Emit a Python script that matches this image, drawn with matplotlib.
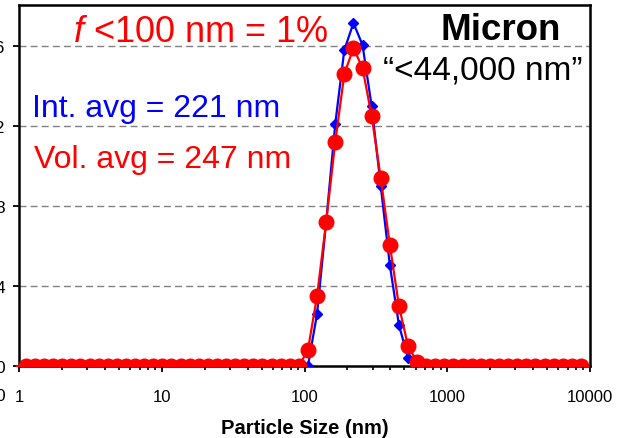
import matplotlib
matplotlib.use("Agg")
import matplotlib.pyplot as plt
from matplotlib.ticker import FixedLocator, NullFormatter

plt.rcParams["font.family"] = ["Liberation Sans", "DejaVu Sans"]
plt.rcParams["mathtext.fontset"] = "custom"
plt.rcParams["mathtext.rm"] = "Liberation Sans"
plt.rcParams["mathtext.it"] = "Liberation Sans:italic"

# size bins (nm)
sizes = [1.117, 1.294, 1.499, 1.736, 2.010, 2.328, 2.696, 3.122, 3.615, 4.187,
         4.849, 5.615, 6.503, 7.531, 8.721, 10.10, 11.70, 13.54, 15.69, 18.17,
         21.04, 24.36, 28.21, 32.67, 37.84, 43.82, 50.75, 58.77, 68.06, 78.82,
         91.28, 105.7, 122.4, 141.8, 164.2, 190.1, 220.2, 255.0, 295.3, 342.0,
         396.1, 458.7, 531.2, 615.1, 712.4, 825.0, 955.4, 1106, 1281, 1484,
         1718, 1990, 2305, 2669, 3091, 3580, 4145, 4801, 5560, 6439,
         7456, 8635]

# intensity distribution (%)
intensity = [0, 0, 0, 0, 0, 0, 0, 0, 0, 0,
             0, 0, 0, 0, 0, 0, 0, 0, 0, 0,
             0, 0, 0, 0, 0, 0, 0, 0, 0, 0,
             0, 0, 2.6, 7.2, 12.1, 15.8, 17.15, 16.05, 13.0, 9.0,
             5.05, 2.05, 0.4, 0, 0, 0, 0, 0, 0, 0,
             0, 0, 0, 0, 0, 0, 0, 0, 0, 0,
             0, 0]

# volume distribution (%)
volume = [0, 0, 0, 0, 0, 0, 0, 0, 0, 0,
          0, 0, 0, 0, 0, 0, 0, 0, 0, 0,
          0, 0, 0, 0, 0, 0, 0, 0, 0, 0,
          0, 0.8, 3.5, 7.2, 11.2, 14.6, 15.9, 14.9, 12.5, 9.4,
          6.05, 3.0, 1.0, 0.2, 0, 0, 0, 0, 0, 0,
          0, 0, 0, 0, 0, 0, 0, 0, 0, 0,
          0, 0]

yticks = [0, 4, 8, 12, 16]
xticks = [1, 10, 100, 1000, 10000]

fig = plt.figure(figsize=(6.2, 4.39), dpi=100)
W, H = 620, 439
x0, x1, ytop, ybot = 19, 590, 6, 367
ax = fig.add_axes([x0 / W, (H - ybot) / H, (x1 - x0) / W, (ybot - ytop) / H])

ax.set_xscale("log")
ax.set_xlim(1, 10000)
ax.set_ylim(0, 18.05)

for v in yticks[1:]:
    ax.axhline(v, color="#808080", lw=1, ls=(0, (5, 3)), zorder=1)

ax.plot(sizes, intensity, color="#0000FF", lw=1.6, marker="D", ms=5,
        markeredgecolor="#0000FF", zorder=3)
ax.plot(sizes, volume, color="#FF0000", lw=1.6, marker="o", ms=10.5,
        markeredgecolor="#FF0000", zorder=4)
# red line continues just past the left axis edge
ax.plot([0.9649, sizes[0]], [0, 0], color="#FF0000", lw=1.6, clip_on=False, zorder=4)

ax.set_yticks(yticks)
ax.set_xticks(xticks)
ax.set_xticklabels([str(t) for t in xticks])
minor = [m * d for d in [1, 10, 100, 1000] for m in range(2, 10)]
ax.xaxis.set_minor_locator(FixedLocator(minor))
ax.xaxis.set_minor_formatter(NullFormatter())

for s in ax.spines.values():
    s.set_linewidth(1.8)
    s.set_color("black")

ax.tick_params(axis="y", direction="out", length=4.3, width=1.3, pad=5.8, labelsize=12.5)
ax.tick_params(axis="x", which="major", direction="out", length=4.3, width=1.3,
               pad=12, labelsize=12)
ax.tick_params(axis="x", which="minor", direction="out", length=3, width=1.2)

ax.set_xlabel("Particle Size (nm)", fontsize=14.5, fontweight="bold", labelpad=10)

def axpos(px, py):
    return (px - x0) / (x1 - x0), (ybot - py) / (ybot - ytop)

ax.text(*axpos(73, 42), r"$\it{f}$ <100 nm = 1%", color="#FF0000", fontsize=26,
        transform=ax.transAxes, va="baseline", ha="left")
ax.text(*axpos(561, 40), "Micron", color="black", fontsize=26.5, fontweight="bold",
        transform=ax.transAxes, va="baseline", ha="right")
ax.text(*axpos(383, 80), "\u201c<44,000 nm\u201d", color="black", fontsize=24,
        transform=ax.transAxes, va="baseline", ha="left")
ax.text(*axpos(32, 117), "Int. avg = 221 nm", color="#0000FF", fontsize=23,
        transform=ax.transAxes, va="baseline", ha="left")
ax.text(*axpos(34, 168), "Vol. avg = 247 nm", color="#FF0000", fontsize=23,
        transform=ax.transAxes, va="baseline", ha="left")

fig.text(5 / W, 1 - 397 / H, "0", fontsize=12.5, ha="right", va="center")

fig.savefig("out.png", dpi=100)
